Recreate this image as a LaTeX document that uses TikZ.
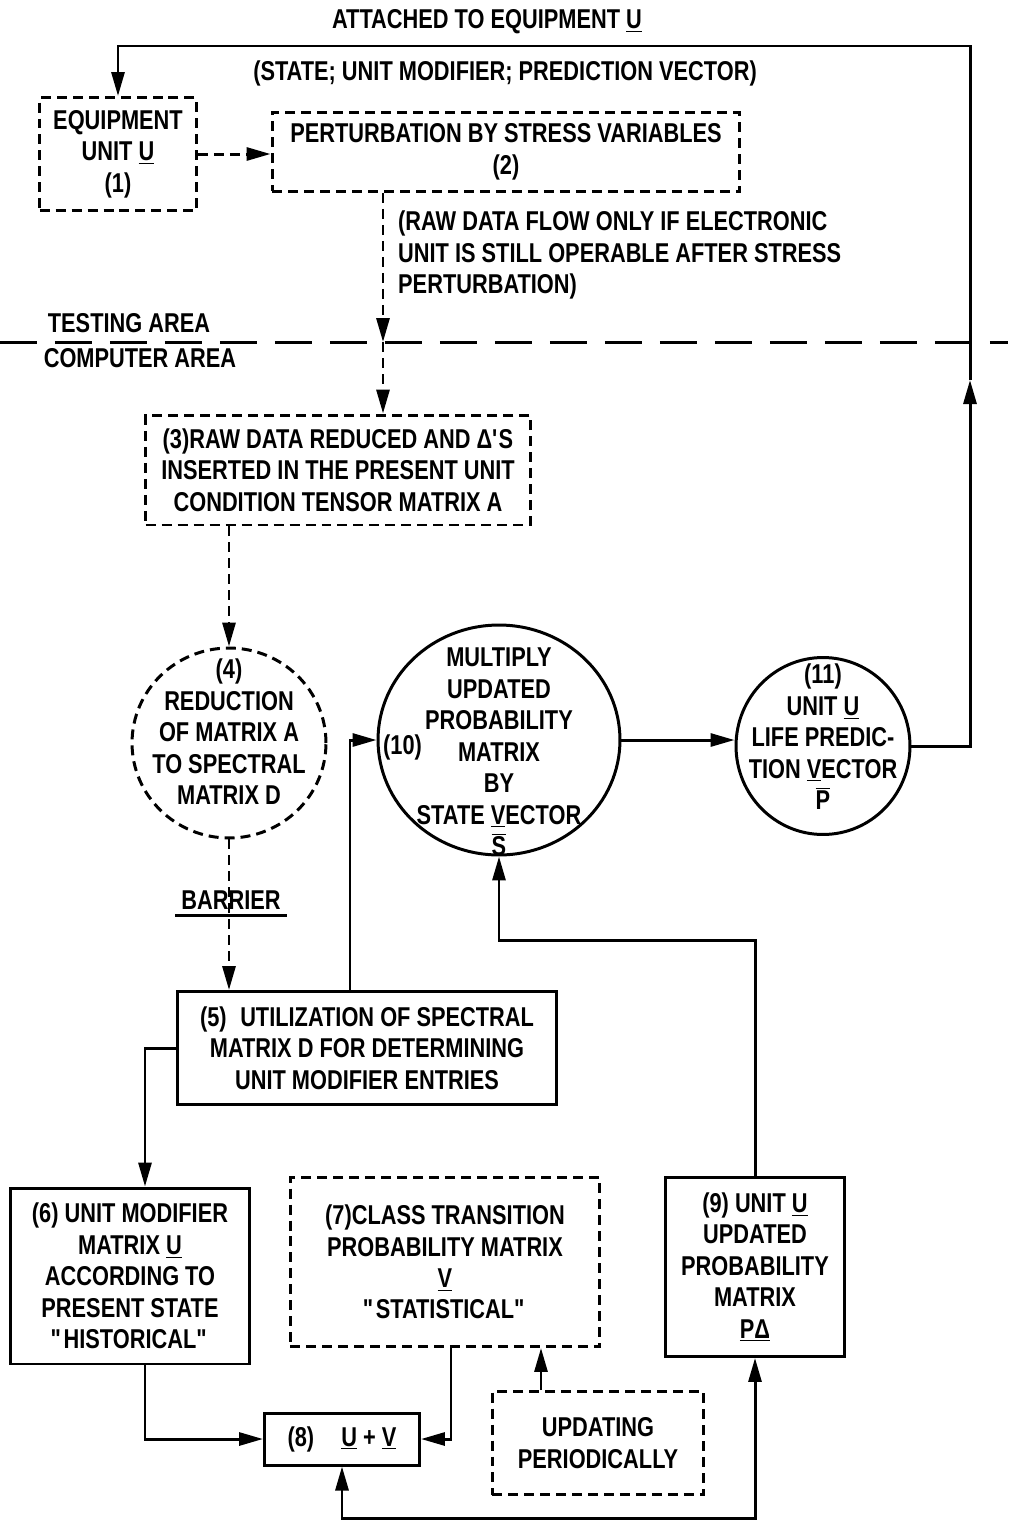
\documentclass[tikz,border=0pt]{standalone}
\usepackage{fontspec}
\setmainfont{Liberation Sans}[FakeStretch=0.8]
\usetikzlibrary{arrows.meta,shapes.geometric}
\newcommand\uv[1]{\underline{#1}}
\newcommand\ovl[1]{$\overline{\hbox{#1}}$}
\tikzset{
  box/.style={draw, line width=1.7pt, align=center, inner sep=0pt},
  dbox/.style={box, dash pattern=on 0.2cm off 0.12cm},
  ring/.style={draw, ellipse, line width=1.7pt, inner sep=0pt},
  flow/.style={->, >={Triangle[length=0.48cm,width=0.26cm]}, line width=1.7pt},
  dflow/.style={flow, dash pattern=on 0.2cm off 0.12cm},
}
\begin{document}
\begin{tikzpicture}[x=0.02cm, y=-0.02cm,
  every node/.style={font=\bfseries\fontsize{15.5}{17.9}\selectfont},
  note/.style={align=left, anchor=west},
  inring/.style={align=center}]
  \useasboundingbox (0,0) rectangle (1008,1522);
  % testing area
  \node (ttl) at (487,22) {ATTACHED TO EQUIPMENT \uv{U}};
  \node (sub) at (505,73) {(STATE; UNIT MODIFIER; PREDICTION VECTOR)};
  \node[dbox, minimum width=3.14cm, minimum height=2.26cm] (s1) at (118,154) {EQUIPMENT\\UNIT \uv{U}\\(1)};
  \node[dbox, minimum width=9.36cm, minimum height=1.58cm] (s2) at (506,152) {PERTURBATION BY STRESS VARIABLES\\(2)};
  \node[note] (raw) at (392,255) {(RAW DATA FLOW ONLY IF ELECTRONIC\\UNIT IS STILL OPERABLE AFTER STRESS\\PERTURBATION)};
  \node (test) at (129,323) {TESTING AREA};
  \node (comp) at (140,358) {COMPUTER AREA};
  \coordinate (bl) at (0,342);
  \coordinate (br) at (1008,342);
  \draw[line width=1.7pt, dash pattern=on 0.75cm off 0.35cm] (bl) -- (br);
  % computer area
  \node[dbox, minimum width=7.7cm, minimum height=2.2cm] (s3) at (338,470) {(3)RAW DATA REDUCED AND Δ\textquotesingle S\\INSERTED IN THE PRESENT UNIT\\CONDITION TENSOR MATRIX A};
  \node[ring, dash pattern=on 0.2cm off 0.12cm, minimum width=3.88cm, minimum height=3.8cm] (s4) at (229,743) {};
  \node[inring] (t4) at (229,732) {(4)\\REDUCTION\\OF MATRIX A\\TO SPECTRAL\\MATRIX D};
  \node (bar) at (231,900) {BARRIER};
  \draw[line width=1.7pt] (bar.south west) -- (bar.south east);
  \node[box, minimum width=7.6cm, minimum height=2.26cm] (s5) at (367,1048) {(5)\enspace UTILIZATION OF SPECTRAL\\MATRIX D FOR DETERMINING\\UNIT MODIFIER ENTRIES};
  \node[ring, minimum width=4.84cm, minimum height=4.6cm] (s10) at (499,740) {};
  \node[inring] (t10) at (499,752) {MULTIPLY\\UPDATED\\PROBABILITY\\MATRIX\\BY\\STATE \uv{V}ECTOR\\\ovl{S}};
  \node[anchor=west] (n10) at (377,747) {(10)};
  \node[ring, minimum width=3.48cm, minimum height=3.54cm] (s11) at (823,746) {};
  \node[inring] (t11) at (823,737) {(11)\\UNIT \uv{U}\\LIFE PREDIC-\\TION \uv{V}ECTOR\\\ovl{P}};
  \node[box, minimum width=4.8cm, minimum height=3.52cm] (s6) at (130,1276) {(6) UNIT MODIFIER\\MATRIX \uv{U}\\ACCORDING TO\\PRESENT STATE\\\textquotedbl HISTORICAL\textquotedbl};
  \node[dbox, minimum width=6.2cm, minimum height=3.38cm] (s7) at (445,1262) {(7)CLASS TRANSITION\\PROBABILITY MATRIX\\\uv{V}\\\textquotedbl STATISTICAL\textquotedbl};
  \node[box, minimum width=3.1cm, minimum height=1.04cm] (s8) at (342,1439) {(8)\quad\uv{U} + \uv{V}};
  \node[dbox, minimum width=4.24cm, minimum height=2.06cm] (upd) at (598,1443) {UPDATING\\PERIODICALLY};
  \node[box, minimum width=3.6cm, minimum height=3.58cm] (s9) at (755,1267) {(9) UNIT \uv{U}\\UPDATED\\PROBABILITY\\MATRIX\\\uv{PΔ}};
  % connectors
  \coordinate (up) at (970,380);
  \coordinate (top) at (0,46);
  \draw[flow] (s11.east) -| (up);
  \draw[flow] (up) |- (top -| s1.north) -- (s1.north);
  \draw[dflow] (s1.east) -- (s1.east -| s2.west);
  \coordinate (cut) at (383,342);
  \draw[dflow] (s2.south -| cut) -- (cut);
  \draw[dflow] (cut) -- (cut |- s3.north);
  \draw[dflow] (s3.south -| s4.north) -- (s4.north);
  \draw[dflow] (s4.south) -- (s4.south |- s5.north);
  \coordinate (j5) at (350,0);
  \draw[flow] (s5.north -| j5) |- (s10.west);
  \draw[flow] (s10.east) -- (s10.east -| s11.west);
  \coordinate (j9) at (0,940);
  \draw[flow] (s9.north) |- (j9 -| s10.south) -- (s10.south);
  \coordinate (j6) at (145,0);
  \draw[flow] (s5.west) -| (j6 |- s6.north);
  \draw[flow] (j6 |- s6.south) |- (s8.west);
  \coordinate (j7) at (451,0);
  \draw[flow] (j7 |- s7.south) |- (s8.east);
  \coordinate (j8) at (541,0);
  \draw[flow] (j8 |- upd.north) -- (j8 |- s7.south);
  \coordinate (bot) at (0,1518);
  \draw[flow, <->] (s8.south) |- (bot -| s9.south) -- (s9.south);
\end{tikzpicture}
\end{document}
